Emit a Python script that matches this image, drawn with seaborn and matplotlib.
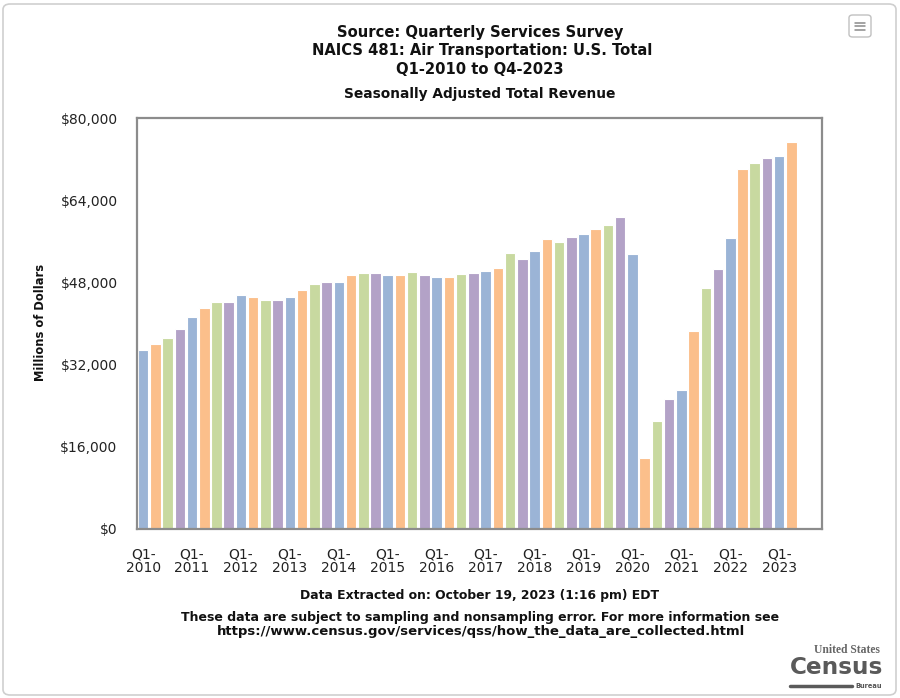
import matplotlib
matplotlib.use("Agg")
import matplotlib.pyplot as plt
from matplotlib.patches import FancyBboxPatch
from matplotlib.lines import Line2D
import seaborn as sns
import pandas as pd

years = list(range(2010, 2024))
quarters = ["Q1", "Q2", "Q3", "Q4"]
categories = [f"{q}-{y}" for y in years for q in quarters]

revenue = [
    34.8, 36.0, 37.2, 39.0,
    41.2, 43.1, 44.2, 44.2,
    45.5, 45.2, 44.5, 44.5,
    45.2, 46.5, 47.7, 48.1,
    48.1, 49.4, 49.8, 49.8,
    49.4, 49.4, 50.1, 49.4,
    49.1, 49.1, 49.6, 49.9,
    50.3, 50.9, 53.7, 52.6,
    54.2, 56.4, 55.9, 56.9,
    57.4, 58.4, 59.1, 60.8,
    53.5, 13.8, 21.0, 25.4,
    27.1, 38.5, 47.0, 50.6,
    56.7, 70.0, 71.2, 72.2,
    72.7, 75.3,
]
revenue = [v * 1000 for v in revenue]

yticks = [0, 16000, 32000, 48000, 64000, 80000]
ytick_labels = ["$0", "$16,000", "$32,000", "$48,000", "$64,000", "$80,000"]
xtick_labels = [f"Q1-\n{y}" for y in years]

colors = ["#9BB4D6", "#FBBF8B", "#C8D9A0", "#B3A2C7"]

df = pd.DataFrame({"quarter": categories[:len(revenue)], "revenue": revenue})
df["color"] = [colors[i % 4] for i in range(len(df))]
palette = dict(zip(df["quarter"], df["color"]))

sns.set_theme(style="white")
plt.rcParams["font.family"] = ["DejaVu Sans"]

W, H = 900, 698
fig = plt.figure(figsize=(W / 100, H / 100), dpi=100)
ax = fig.add_axes([137 / W, 1 - 529 / H, (822 - 137) / W, (529 - 118) / H])

sns.barplot(data=df, x="quarter", y="revenue", hue="quarter", order=categories,
            palette=palette, legend=False, width=0.86, edgecolor="white",
            linewidth=0.8, saturation=1, ax=ax)

ax.set_xlim(-0.5, len(categories) - 0.5)
ax.set_ylim(0, 80000)
ax.set_yticks(yticks)
ax.set_yticklabels(ytick_labels, fontsize=10, color="#222222")
ax.set_xticks(list(range(0, len(categories), 4)))
ax.set_xticklabels(xtick_labels, fontsize=10, color="#222222", linespacing=1.0)
ax.tick_params(axis="x", length=0, pad=13)
ax.tick_params(axis="y", length=0, pad=14)
ax.set_xlabel("")
ax.set_ylabel("")
for s in ax.spines.values():
    s.set_visible(True)
    s.set_color("#8c8c8c")
    s.set_linewidth(1.6)
ax.grid(False)

renderer = fig.canvas.get_renderer()


def fit_text(x, y, s, target_w, size0=11, vertical=False, **kw):
    t = fig.text(x / W, 1 - y / H, s, fontsize=size0, **kw)
    bb = t.get_window_extent(renderer)
    cur = bb.height if vertical else bb.width
    t.set_fontsize(size0 * target_w / cur)
    return t


tkw = dict(ha="center", va="center", fontweight="bold", color="#111111")
t1 = fit_text(480, 33, "Source: Quarterly Services Survey", 286, **tkw)
tsize = t1.get_fontsize()
fig.text(482 / W, 1 - 51 / H, "NAICS 481: Air Transportation: U.S. Total", fontsize=tsize, **tkw)
fig.text(480 / W, 1 - 69 / H, "Q1-2010 to Q4-2023", fontsize=tsize, **tkw)
fit_text(480, 94, "Seasonally Adjusted Total Revenue", 270, **tkw)

fit_text(41, 322, "Millions of Dollars", 116, vertical=True, rotation=90, **tkw)

fit_text(480, 595, "Data Extracted on: October 19, 2023 (1:16 pm) EDT", 360, **tkw)
fit_text(480, 617, "These data are subject to sampling and nonsampling error. For more information see",
         596, **tkw)
fit_text(481, 632, "https://www.census.gov/services/qss/how_the_data_are_collected.html", 524, **tkw)

# outer rounded border
fig.patches.append(FancyBboxPatch((3 / W, 3 / H), 893 / W, 691 / H,
                                  boxstyle="round,pad=0,rounding_size=0.008",
                                  transform=fig.transFigure, fill=False,
                                  edgecolor="#cfcfcf", linewidth=1.2))

# menu icon
fig.patches.append(FancyBboxPatch((849 / W, 1 - 37 / H), 22 / W, 22 / H,
                                  boxstyle="round,pad=0,rounding_size=0.004",
                                  transform=fig.transFigure, fill=True, facecolor="white",
                                  edgecolor="#c0c0c0", linewidth=1.0))
for yy in (22.5, 26, 29.5):
    fig.lines.append(Line2D([855 / W, 865 / W], [1 - yy / H, 1 - yy / H],
                            transform=fig.transFigure, color="#8a8a8a", linewidth=1.1))

# census logo
fit_text(847, 650, "United States", 66, ha="center", va="center", color="#666666",
         family=["Liberation Serif", "DejaVu Serif"], fontweight="bold")
fit_text(837, 667, "Census", 93, ha="center", va="center", color="#5a5a5a", fontweight="bold")
fig.lines.append(Line2D([790 / W, 852 / W], [1 - 686 / H, 1 - 686 / H],
                        transform=fig.transFigure, color="#5a5a5a", linewidth=2.5))
fit_text(869, 686, "Bureau", 27, ha="center", va="center", color="#555555", fontweight="bold")

fig.savefig("out.png", dpi=100, facecolor="white")
